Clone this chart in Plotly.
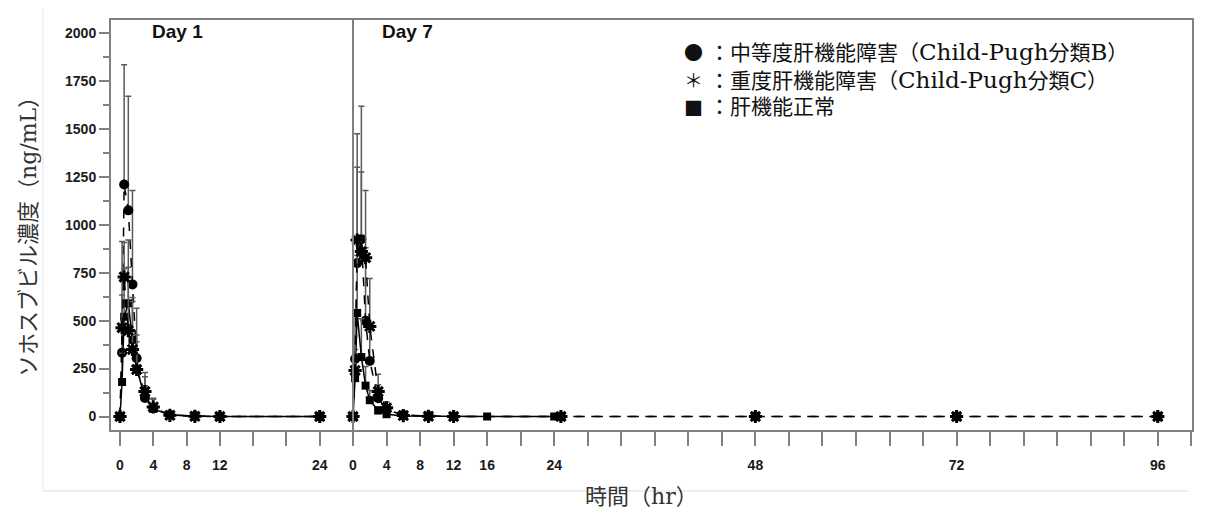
import plotly.graph_objects as go

# ---------------- data ----------------
day1_time = [0, 0.25, 0.5, 1, 1.5, 2, 3, 4, 6, 9, 12, 24]
day1_moderate = [0, 333, 1210, 1075, 689, 304, 97, 45, 8, 2, 0, 0]
day1_moderate_sd = [0, 300, 625, 595, 490, 260, 110, 50, 10, 3, 0, 0]
day1_severe = [0, 463, 728, 448, 350, 245, 130, 50, 6, 1, 0, 0]
day1_severe_sd = [0, 450, 180, 330, 250, 180, 100, 40, 8, 2, 0, 0]
day1_normal = [0, 180, 520, 590, 400, 250, 100, 40, 8, 2, 0, 0]
day1_normal_sd = [0, 150, 250, 330, 220, 140, 60, 25, 5, 1, 0, 0]

day7_time = [0, 0.25, 0.5, 1, 1.5, 2, 3, 4, 6, 9, 12, 24.8, 48, 72, 96]
day7_moderate = [0, 300, 800, 925, 500, 290, 95, 35, 8, 2, 0, 0, 0, 0, 0]
day7_moderate_sd = [0, 250, 674, 693, 380, 190, 70, 25, 6, 2, 0, 0, 0, 0, 0]
day7_severe = [0, 240, 920, 860, 828, 470, 130, 45, 5, 1, 0, 0, 0, 0, 0]
day7_severe_sd = [0, 180, 380, 415, 350, 250, 90, 30, 4, 1, 0, 0, 0, 0, 0]
day7_normal_time = [0, 0.25, 0.5, 1, 1.5, 2, 3, 4, 6, 9, 12, 16, 24]
day7_normal = [0, 200, 540, 310, 161, 85, 31, 12, 3, 1, 0, 0, 0]
day7_normal_sd = [0, 150, 300, 200, 100, 50, 20, 8, 2, 1, 0, 0, 0]

day1_tickvals = [0, 4, 8, 12, 16, 20, 24]
day1_ticktext = ["0", "4", "8", "12", "", "", "24"]
day7_tickvals = list(range(0, 101, 4))
day7_labels = {0: "0", 4: "4", 8: "8", 12: "12", 16: "16", 24: "24", 48: "48", 72: "72", 96: "96"}
day7_ticktext = [day7_labels.get(v, "") for v in day7_tickvals]

y_tickvals = [0, 250, 500, 750, 1000, 1250, 1500, 1750, 2000]

legend_symbols = ["●", "＊", "■"]
legend_labels = ["中等度肝機能障害（<span style='font-size:23px'>Child-Pugh</span>分類<span style='font-size:23px'>B</span>）",
                 "重度肝機能障害（<span style='font-size:23px'>Child-Pugh</span>分類<span style='font-size:23px'>C</span>）",
                 "肝機能正常"]

# ---------------- layout geometry ----------------
W, H = 1212, 511
L, R, T, B = 102, 1185, 11, 423
split = (345 - L) / (R - L)


def px(xp):
    return (xp - L) / (R - L)


def py(yp):
    return (B - yp) / (B - T)


fig = go.Figure()

series_style = {
    "moderate": dict(symbol="circle", size=10, dash="dash"),
    "normal": dict(symbol="square", size=8, dash="solid"),
    "severe": dict(symbol="asterisk-open", size=11, dash="dash"),
}


def add(x, y, sd, kind, xaxis):
    st = series_style[kind]
    fig.add_trace(go.Scatter(
        x=x, y=y, xaxis=xaxis, yaxis="y", mode="lines+markers",
        line=dict(color="black", width=1.5, dash=st["dash"]),
        marker=dict(symbol=st["symbol"], size=st["size"], color="black",
                    line=dict(color="black", width=3 if kind == "severe" else 0)),
        error_y=dict(type="data", symmetric=False, array=sd, arrayminus=[0] * len(sd),
                     color="#5a5a5a", thickness=1.5, width=3),
        showlegend=False, cliponaxis=False,
    ))


add(day1_time, day1_moderate, day1_moderate_sd, "moderate", "x")
add(day1_time, day1_normal, day1_normal_sd, "normal", "x")
add(day1_time, day1_severe, day1_severe_sd, "severe", "x")
add(day7_time, day7_moderate, day7_moderate_sd, "moderate", "x2")
add(day7_normal_time, day7_normal, day7_normal_sd, "normal", "x2")
add(day7_time, day7_severe, day7_severe_sd, "severe", "x2")

tickfont = dict(family="Arial, Liberation Sans", size=14, color="#1a1a1a", weight="bold")
axis_gray = "#808080"

fig.update_layout(
    width=W, height=H,
    margin=dict(l=L, r=W - R, t=T, b=H - B),
    paper_bgcolor="white", plot_bgcolor="white",
    xaxis=dict(domain=[0, split], range=[-1.2, 28], tickmode="array",
               tickvals=day1_tickvals, ticktext=day1_ticktext,
               ticks="outside", ticklen=14, tickwidth=1.5, tickcolor=axis_gray,
               showgrid=False, zeroline=False, showline=False,
               tickfont=tickfont, ticklabelstandoff=7, anchor="y"),
    xaxis2=dict(domain=[split, 1], range=[0, 100.2], tickmode="array",
                tickvals=day7_tickvals, ticktext=day7_ticktext,
                ticks="outside", ticklen=14, tickwidth=1.5, tickcolor=axis_gray,
                showgrid=False, zeroline=False, showline=False,
                tickfont=tickfont, ticklabelstandoff=7, anchor="y"),
    yaxis=dict(range=[-75.6, 2073], tickmode="array", tickvals=y_tickvals,
               ticks="outside", ticklen=10, tickwidth=1.5, tickcolor=axis_gray,
               minor=dict(ticks="outside", ticklen=6, dtick=125, tick0=0,
                          tickcolor=axis_gray, tickwidth=1.5),
               showgrid=False, zeroline=False, showline=False,
               tickfont=tickfont, anchor="x"),
)

# plot frame and panel divider
fig.add_shape(type="rect", xref="paper", yref="paper", x0=0, x1=1, y0=0, y1=1,
              line=dict(color=axis_gray, width=2), layer="above")
fig.add_shape(type="line", xref="paper", yref="paper", x0=split, x1=split, y0=0, y1=1,
              line=dict(color=axis_gray, width=2), layer="above")
# faint page border lines
fig.add_shape(type="line", xref="paper", yref="paper", x0=px(35), x1=px(1180),
              y0=py(483), y1=py(483), line=dict(color="#dddddd", width=1))
fig.add_shape(type="line", xref="paper", yref="paper", x0=px(35), x1=px(35),
              y0=py(0), y1=py(483), line=dict(color="#e6e6e6", width=1))

# panel labels
for txt, xc in [("Day 1", 169), ("Day 7", 399)]:
    fig.add_annotation(xref="paper", yref="paper", x=px(xc), y=py(24), text=txt,
                       showarrow=False, xanchor="center", yanchor="middle",
                       font=dict(family="Arial, Liberation Sans", size=19, color="#111111",
                                 weight="bold"))

# legend (symbol + label)
label_font = dict(family="DejaVu Serif, Noto Sans CJK JP", size=21, color="#111111")
for i, (s, t) in enumerate(zip(legend_symbols, legend_labels)):
    yy = py(44 + 27.5 * i)
    fig.add_annotation(xref="paper", yref="paper", x=px(685), y=yy, text=s,
                       showarrow=False, xanchor="center", yanchor="middle",
                       font=dict(family="Noto Sans CJK JP", size=19, color="#111111"))
    fig.add_annotation(xref="paper", yref="paper", x=px(699), y=yy, text="：" + t,
                       showarrow=False, xanchor="left", yanchor="middle", font=label_font)

# axis titles
title_font = dict(family="DejaVu Serif, Noto Sans CJK JP", size=22, color="#333333")
fig.add_annotation(xref="paper", yref="paper", x=px(20), y=py(224), text="ソホスブビル濃度（ng/mL）",
                   textangle=-90, showarrow=False, xanchor="center", yanchor="middle", font=title_font)
fig.add_annotation(xref="paper", yref="paper", x=px(633), y=py(489), text="時間（hr）",
                   showarrow=False, xanchor="center", yanchor="middle", font=title_font)

fig.write_html("out.html")
